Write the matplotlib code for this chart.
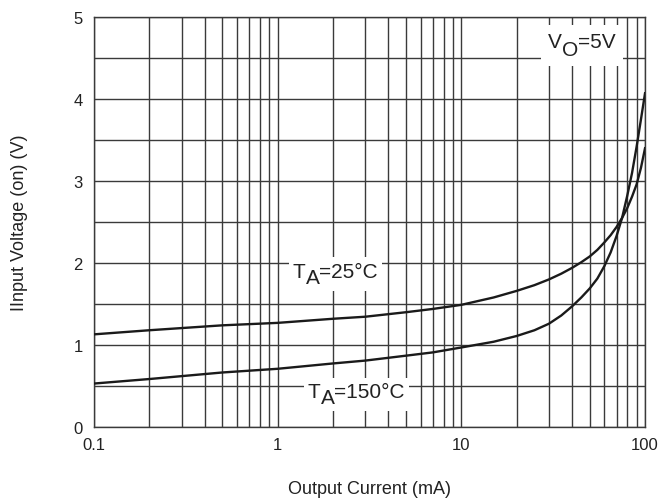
import matplotlib
matplotlib.use("Agg")
import matplotlib.pyplot as plt
from matplotlib.ticker import LogLocator, FixedLocator, NullFormatter
from matplotlib.offsetbox import TextArea, HPacker, VPacker, DrawingArea, AnnotationBbox

plt.rcParams['font.family'] = ['Liberation Sans', 'DejaVu Sans']

# -- data --
current_25 = [0.1, 0.2, 0.5, 1, 2, 3, 5, 7, 10, 15, 20, 25, 30, 35, 40, 45, 50, 55, 60,
              65, 70, 75, 80, 85, 90, 95, 100]
vin_25 = [1.13, 1.18, 1.24, 1.27, 1.32, 1.345, 1.40, 1.44, 1.49, 1.58, 1.66, 1.73, 1.80, 1.87,
          1.94, 2.01, 2.08, 2.16, 2.25, 2.34, 2.44, 2.55, 2.67, 2.81, 2.96, 3.16, 3.40]

current_150 = [0.1, 0.2, 0.5, 1, 2, 3, 5, 7, 10, 15, 20, 25, 30, 35, 40, 45, 50, 55, 60,
               65, 70, 75, 80, 85, 90, 95, 100]
vin_150 = [0.53, 0.585, 0.665, 0.71, 0.775, 0.81, 0.87, 0.91, 0.97, 1.04, 1.11, 1.18, 1.26, 1.36,
           1.47, 1.58, 1.69, 1.81, 1.96, 2.13, 2.33, 2.55, 2.82, 3.10, 3.42, 3.75, 4.07]

x_ticks = [0.1, 1, 10, 100]
x_tick_labels = ["0.1", "1", "10", "100"]
y_ticks = [0, 1, 2, 3, 4, 5]

fig = plt.figure(figsize=(6.59, 5.02), dpi=100)
ax = fig.add_axes([0.1426, 0.1474, 0.8362, 0.8167])

ax.plot(current_25, vin_25, color="#1a1a1a", linewidth=1.7, zorder=3)
ax.plot(current_150, vin_150, color="#1a1a1a", linewidth=1.7, zorder=3)

ax.set_xscale("log")
ax.set_xlim(0.1, 100)
ax.set_ylim(0, 5)

ax.set_xticks(x_ticks)
ax.set_xticklabels(x_tick_labels)
ax.xaxis.set_minor_locator(LogLocator(base=10, subs=range(2, 10)))
ax.xaxis.set_minor_formatter(NullFormatter())
ax.set_yticks(y_ticks)
ax.yaxis.set_minor_locator(FixedLocator([0.5, 1.5, 2.5, 3.5, 4.5]))

ax.grid(which="both", color="#3a3a3a", linewidth=1.0)
ax.set_axisbelow(True)
ax.tick_params(which="both", length=0, labelsize=12, colors="#222222")
ax.tick_params(axis="y", pad=8)
ax.tick_params(axis="x", pad=7)
for sp in ax.spines.values():
    sp.set_color("#3a3a3a")
    sp.set_linewidth(1.0)

ax.set_xlabel("Output Current (mA)", fontsize=13, labelpad=20, color="#222222")
ax.set_ylabel("IInput Voltage (on) (V)", fontsize=13, labelpad=33, color="#222222")


def sub_label(x, y, main, sub, rest, drop, pad):
    """ label like T_A=25°C with a full size subscript, on a white patch """
    props = dict(fontsize=15, color="#222222")
    lowered = VPacker(children=[DrawingArea(1, drop), TextArea(sub, textprops=props)], pad=0, sep=0)
    row = HPacker(children=[TextArea(main, textprops=props), lowered, TextArea(rest, textprops=props)],
                  align="top", pad=0, sep=0)
    ab = AnnotationBbox(row, (x, y), xycoords="data", box_alignment=(0, 0), frameon=True, pad=pad,
                        bboxprops=dict(facecolor="white", edgecolor="none"), zorder=4)
    ax.add_artist(ab)


sub_label(1.21, 1.71, "T", "A", "=25°C", 4.5, 0.3)
sub_label(1.46, 0.244, "T", "A", "=150°C", 4.5, 0.3)
sub_label(29.6, 4.49, "V", "O", "=5V", 5.5, 0.5)

fig.savefig("out.png", dpi=100)
